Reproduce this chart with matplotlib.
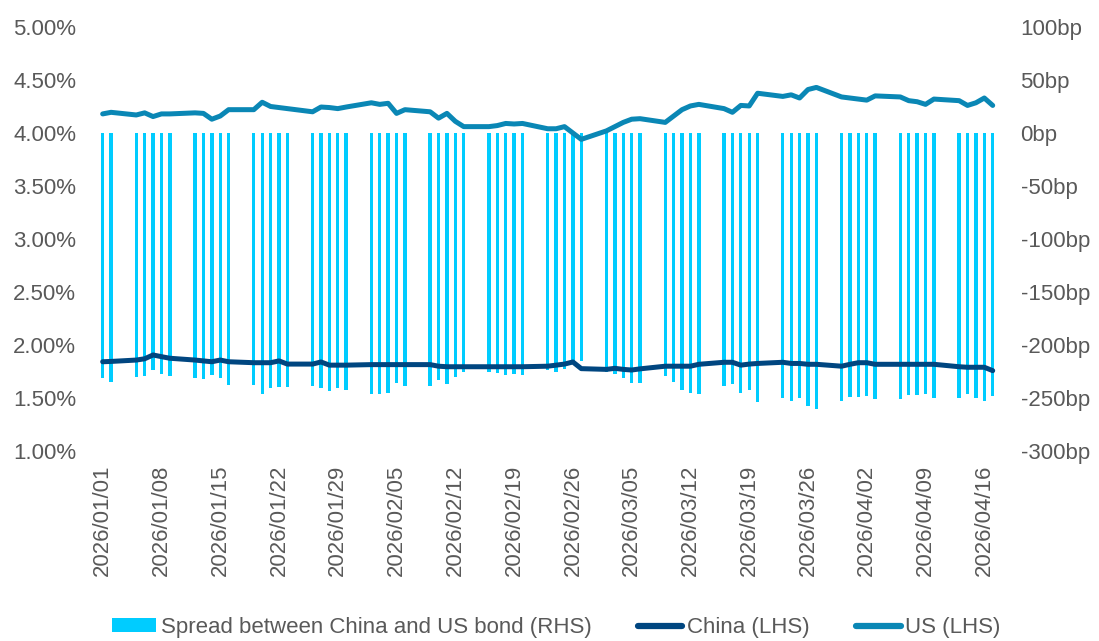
"""China vs US 10y bond yields with spread bars (RHS)."""

import matplotlib

matplotlib.use("Agg")
import matplotlib.dates as mdates
import matplotlib.pyplot as plt
import numpy as np
import pandas as pd
from matplotlib.lines import Line2D
from matplotlib.patches import Patch

# business days 2026/01/01 .. 2026/04/17
dates = pd.bdate_range("2026-01-01", "2026-04-17")

# US yield, % (LHS)
us = [
    # Jan
    4.18, 4.195, 4.17, 4.19, 4.155, 4.18, 4.18, 4.19, 4.185, 4.13, 4.16,
    4.22, 4.22, 4.29, 4.25, 4.24, 4.23, 4.20, 4.245, 4.24, 4.23, 4.245,
    # Feb
    4.285, 4.27, 4.28, 4.185, 4.22, 4.20, 4.14, 4.185, 4.11, 4.06,
    4.06, 4.07, 4.09, 4.085, 4.09, 4.04, 4.04, 4.06, 4.00, 3.94,
    # Mar
    4.02, 4.06, 4.10, 4.13, 4.135, 4.10, 4.16, 4.22, 4.255, 4.27, 4.23,
    4.195, 4.26, 4.255, 4.375, 4.345, 4.36, 4.33, 4.41, 4.43, 4.34, 4.33,
    # Apr
    4.32, 4.31, 4.35, 4.34, 4.305, 4.295, 4.27, 4.32, 4.305, 4.26, 4.285,
    4.33, 4.26,
]

# China yield, % (LHS)
china = [
    # Jan
    1.842, 1.845, 1.858, 1.87, 1.906, 1.89, 1.875, 1.858, 1.85, 1.842, 1.858,
    1.842, 1.833, 1.833, 1.833, 1.85, 1.82, 1.82, 1.84, 1.81, 1.81, 1.81,
    # Feb
    1.815, 1.815, 1.815, 1.815, 1.815, 1.815, 1.80, 1.795, 1.795, 1.795,
    1.795, 1.795, 1.795, 1.795, 1.795, 1.80, 1.81, 1.82, 1.84, 1.777,
    # Mar
    1.77, 1.78, 1.77, 1.764, 1.775, 1.80, 1.80, 1.80, 1.80, 1.818, 1.837,
    1.837, 1.81, 1.82, 1.826, 1.837, 1.826, 1.826, 1.818, 1.818, 1.80, 1.818,
    # Apr
    1.833, 1.833, 1.818, 1.818, 1.818, 1.818, 1.818, 1.818, 1.795, 1.79,
    1.79, 1.79, 1.758,
]

# spread China - US, bp (RHS)
spread = [
    # Jan
    -231, -235, -230, -229, -224, -227, -229, -231, -232, -228, -231,
    -238, -238, -246, -241, -240, -240, -239, -241, -243, -241, -242,
    # Feb
    -246, -246, -245, -236, -239, -239, -233, -237, -230, -225,
    -225, -226, -228, -227, -228, -224, -225, -223, -217, -215,
    # Mar
    -225, -227, -231, -236, -236, -229, -235, -242, -245, -246, -239,
    -237, -245, -242, -254, -250, -253, -250, -258, -260, -253, -249,
    # Apr
    -249, -248, -251, -251, -247, -247, -246, -250, -250, -246, -250,
    -253, -248,
]

left_ticks = [1.0, 1.5, 2.0, 2.5, 3.0, 3.5, 4.0, 4.5, 5.0]
right_ticks = [-300, -250, -200, -150, -100, -50, 0, 50, 100]
x_ticks = pd.date_range("2026-01-01", "2026-04-16", freq="7D")

BAR_C = "#00CCFF"
CHINA_C = "#004680"
US_C = "#0A87B5"
TXT_C = "#595959"
FONT = "Liberation Sans"
FS = 16

plt.rcParams["font.family"] = FONT

fig = plt.figure(figsize=(10.99, 6.41), dpi=100)
ax = fig.add_axes([0.0896, 0.2964, 0.8175, 0.6615])
ax2 = ax.twinx()

x = mdates.date2num(dates)

# bars on the right axis, drawn beneath the lines
ax2.bar(x, spread, width=0.4, color=BAR_C, zorder=1)
ax2.set_ylim(-300, 100)
ax2.set_yticks(right_ticks)
ax2.set_yticklabels([f"{v}bp" for v in right_ticks])

ax.plot(x, china, color=CHINA_C, lw=3.6, solid_capstyle="round", zorder=3)
ax.plot(x, us, color=US_C, lw=3.6, solid_capstyle="round", zorder=3)
ax.set_ylim(1.0, 5.0)
ax.set_yticks(left_ticks)
ax.set_yticklabels([f"{v:.2f}%" for v in left_ticks])

ax.set_zorder(ax2.get_zorder() + 1)
ax.patch.set_visible(False)

ax.set_xlim(x[0] - 0.5, x[-1] + 0.5)
ax.set_xticks(mdates.date2num(x_ticks))
ax.set_xticklabels([d.strftime("%Y/%m/%d") for d in x_ticks], rotation=90)

for a in (ax, ax2):
    for s in a.spines.values():
        s.set_visible(False)
    a.tick_params(length=0, labelsize=FS, labelcolor=TXT_C)
ax.tick_params(axis="y", pad=16)
ax2.tick_params(axis="y", pad=17)
ax.tick_params(axis="x", pad=10)

handles = [
    Patch(facecolor=BAR_C, edgecolor="none"),
    Line2D([], [], color=CHINA_C, lw=4.5, solid_capstyle="round"),
    Line2D([], [], color=US_C, lw=4.5, solid_capstyle="round"),
]
labels = [
    "Spread between China and US bond (RHS)",
    "China (LHS)",
    "US (LHS)",
]
fig.legend(
    handles, labels, loc="center", bbox_to_anchor=(0.506, 0.021), ncol=3,
    frameon=False, fontsize=FS, labelcolor=TXT_C, handlelength=2.0,
    handleheight=0.6, handletextpad=0.2, columnspacing=2.1,
)

fig.savefig("out.png", dpi=100)
